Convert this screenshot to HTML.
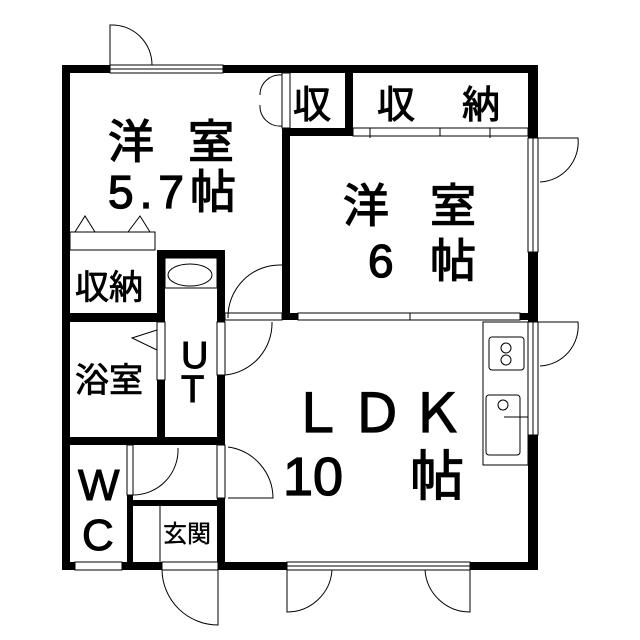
<!DOCTYPE html>
<html><head><meta charset="utf-8"><style>
body{margin:0;background:#fff}
svg{display:block}
text{font-family:"Liberation Sans","Noto Sans CJK JP",sans-serif;fill:#000}
</style></head><body>
<svg width="640" height="640" viewBox="0 0 640 640" xmlns="http://www.w3.org/2000/svg">
<g fill="#000">
<rect x="62" y="65" width="476" height="8"/>
<rect x="62" y="65" width="8" height="505"/>
<rect x="528" y="65" width="10" height="505"/>
<rect x="62" y="562" width="476" height="8"/>
<rect x="282" y="128" width="8" height="192"/>
<rect x="282" y="128" width="71" height="8"/>
<rect x="345" y="73" width="8" height="63"/>
<rect x="70" y="313" width="95" height="9"/>
<rect x="157" y="250" width="68" height="8"/>
<rect x="157" y="250" width="8" height="195"/>
<rect x="217" y="250" width="8" height="320"/>
<rect x="70" y="437" width="155" height="8"/>
<rect x="127" y="445" width="6" height="125"/>
<rect x="130" y="500" width="95" height="6"/>
<rect x="225" y="313" width="303" height="7"/>
</g>
<g fill="#fff" stroke="#000" stroke-width="1">
<rect x="110" y="65" width="113" height="8"/><line x1="110" y1="69" x2="223" y2="69"/>
<rect x="282" y="73" width="8" height="55"/>
<rect x="353" y="128" width="175" height="8"/>
<rect x="528" y="138" width="10" height="114"/><line x1="533" y1="138" x2="533" y2="252"/>
<rect x="528" y="322" width="10" height="113"/><line x1="533" y1="322" x2="533" y2="435"/>
<rect x="298" y="313" width="222" height="7"/><line x1="410" y1="313" x2="410" y2="320"/>
<rect x="157" y="322" width="8" height="58"/>
<rect x="217" y="322" width="8" height="53"/>
<rect x="217" y="445" width="8" height="53"/>
<rect x="127" y="445" width="6" height="50"/>
<rect x="225" y="313" width="57" height="7"/>
<rect x="75" y="562" width="47" height="8"/>
<rect x="162" y="562" width="56" height="8"/>
<rect x="287" y="562" width="183" height="8"/><line x1="287" y1="566" x2="470" y2="566"/>
<rect x="70" y="232" width="85" height="18"/>
<rect x="165" y="258" width="52" height="30"/>
<rect x="483" y="322" width="45" height="143"/>
<rect x="489" y="337" width="35" height="33" rx="3"/>
<rect x="486" y="395" width="34" height="60" rx="3"/>
<ellipse cx="190" cy="275" rx="22" ry="11"/>
</g>
<g fill="none" stroke="#000" stroke-width="1">
<line x1="160" y1="506" x2="160" y2="562"/>
<line x1="370" y1="128" x2="370" y2="138"/><line x1="440" y1="128" x2="440" y2="136"/><line x1="490" y1="128" x2="490" y2="138"/>
<path d="M110 65 V25 A40 40 0 0 1 152 65"/>
<path d="M538 138 H578 A40 40 0 0 1 540 182"/>
<path d="M538 322 H578 A40 40 0 0 1 540 366"/>
<path d="M282 75 A20 20 0 0 0 260 95 M282 126 A20 20 0 0 1 260 105"/>
<path d="M228 318 A52 52 0 0 1 282 265"/>
<path d="M225 375 A52 52 0 0 0 272 322"/>
<path d="M228 447 A52 52 0 0 1 273 498 H228"/>
<path d="M133 495 A45 45 0 0 0 178 448"/>
<path d="M157 330 L132 338 L157 350"/>
<path d="M75 232 L85 216 L95 232 M128 232 L140 216 L150 232"/>
<path d="M162 570 A56 56 0 0 0 218 625 V570"/>
<path d="M287 570 V612 A45 45 0 0 0 332 570"/>
<path d="M470 570 V612 A45 45 0 0 1 425 570"/>
<circle cx="506" cy="348" r="5"/><circle cx="506" cy="360" r="5"/>
<circle cx="503" cy="405" r="5"/>
<line x1="504" y1="417" x2="528" y2="417"/>
</g>
<g font-size="46" stroke="#000" stroke-width="1.3">
<text x="108" y="158">洋</text><text x="188" y="158">室</text>
<text x="108" y="208" textLength="128">5.7帖</text>
<text x="343" y="222">洋</text><text x="430" y="222">室</text>
<text x="368" y="277">6</text><text x="430" y="277">帖</text>
<text x="290" y="432" font-size="54">Ｌ</text><text x="350" y="432" font-size="54">Ｄ</text><text x="410" y="432" font-size="54">Ｋ</text>
<text x="283" y="495" font-size="54">10</text><text x="410" y="495" font-size="54">帖</text>
</g>
<g font-size="38" stroke="#000" stroke-width="1">
<text x="293" y="118">収</text>
<text x="377" y="118">収</text><text x="462" y="118">納</text>
<text x="181" y="368">U</text><text x="181" y="402">T</text>
<text x="78" y="500" font-size="44">W</text><text x="82" y="550" font-size="44">C</text>
</g>
<g font-size="34" stroke="#000" stroke-width="0.8">
<text x="75" y="299">収納</text>
<text x="75" y="392">浴室</text>
</g>
<text x="163" y="542" font-size="24" stroke="#000" stroke-width="0.4">玄関</text>
</svg>
</body></html>
